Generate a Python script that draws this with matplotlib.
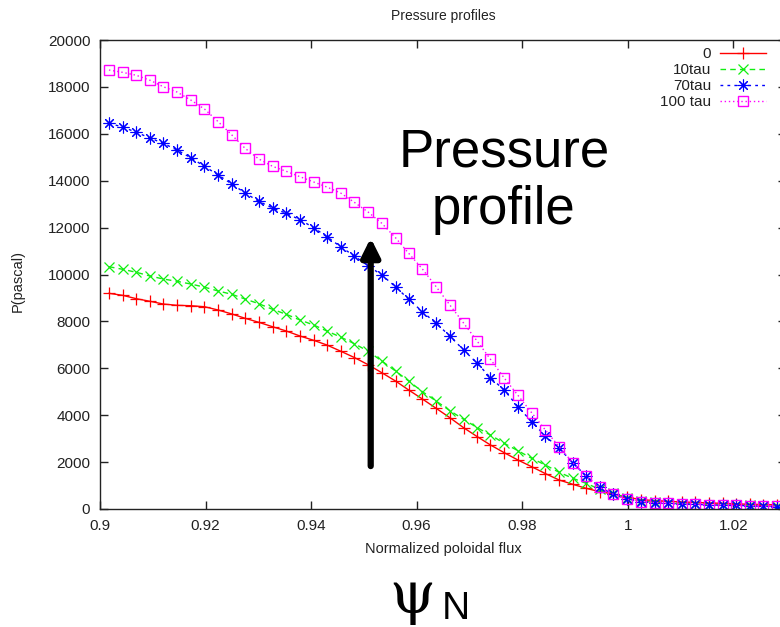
import matplotlib
matplotlib.use('Agg')
import matplotlib.pyplot as plt
from matplotlib.ticker import FormatStrFormatter, MultipleLocator

plt.rcParams['font.family'] = ['Liberation Sans', 'DejaVu Sans']

# normalized poloidal flux (grid)
psi = [0.9017, 0.9043, 0.9069, 0.9095, 0.9120, 0.9146, 0.9172, 0.9198, 0.9224, 0.9250,
       0.9275, 0.9301, 0.9327, 0.9353, 0.9379, 0.9405, 0.9430, 0.9456, 0.9482, 0.9508,
       0.9534, 0.9560, 0.9585, 0.9611, 0.9637, 0.9663, 0.9689, 0.9715, 0.9740, 0.9766,
       0.9792, 0.9818, 0.9844, 0.9870, 0.9896, 0.9921, 0.9947, 0.9973, 0.9999, 1.0025,
       1.0051, 1.0076, 1.0102, 1.0128, 1.0154, 1.0180, 1.0206, 1.0231, 1.0257, 1.0283]

p_0 = [9197, 9112, 8967, 8856, 8741, 8686, 8669, 8626, 8485, 8315,
       8132, 7961, 7773, 7590, 7377, 7193, 6993, 6730, 6460, 6155,
       5812, 5458, 5074, 4690, 4294, 3893, 3467, 3083, 2729, 2401,
       2089, 1804, 1510, 1237, 1053, 883, 738, 640, 500, 400,
       360, 330, 300, 280, 260, 240, 220, 200, 190, 180]

p_10tau = [10332, 10221, 10093, 9935, 9807, 9709, 9594, 9460, 9296, 9155,
           8954, 8754, 8515, 8302, 8059, 7846, 7590, 7330, 7050, 6730,
           6311, 5884, 5458, 5002, 4605, 4192, 3825, 3467, 3155, 2801,
           2486, 2162, 1876, 1565, 1309, 1096, 840, 669, 470, 340,
           290, 260, 230, 210, 190, 175, 160, 150, 140, 130]

p_70tau = [16446, 16288, 16062, 15819, 15593, 15308, 14979, 14613, 14242, 13858,
           13474, 13120, 12835, 12609, 12336, 11995, 11611, 11184, 10788, 10374,
           9978, 9479, 8942, 8413, 7918, 7377, 6780, 6213, 5599, 5074,
           4362, 3723, 3113, 2588, 1974, 1407, 925, 627, 414, 311,
           270, 243, 215, 200, 180, 160, 150, 140, 120, 105]

p_100tau = [18720, 18620, 18494, 18280, 18007, 17781, 17440, 17056, 16515, 15947,
            15380, 14924, 14613, 14400, 14170, 13944, 13730, 13475, 13078, 12664,
            12183, 11568, 10903, 10234, 9479, 8699, 7931, 7151, 6383, 5586,
            4848, 4106, 3369, 2656, 1974, 1407, 925, 627, 414, 311,
            275, 245, 218, 200, 182, 162, 150, 140, 122, 108]

xticks = [0.9, 0.92, 0.94, 0.96, 0.98, 1.0, 1.02]

fig = plt.figure(figsize=(7.8, 6.27), dpi=100)
ax = fig.add_axes([100 / 780, 118 / 627, 686 / 780, 469 / 627])

ax.plot(psi, p_0, color='#ff0000', lw=1, ls='-', marker='+', ms=8, mew=0.9, label='0')
ax.plot(psi, p_10tau, color='#11ee11', lw=1, ls=(0, (4, 3)), marker='x', ms=7, mew=0.9,
        label='10tau')
ax.plot(psi, p_70tau, color='#0000ff', lw=1, ls=(0, (2, 3)), marker=(8, 2, 0), ms=8.5,
        mew=0.8, label='70tau')
ax.plot(psi, p_100tau, color='#ff00ff', lw=1, ls=(0, (1, 2)), marker='s', ms=7, mew=1,
        mfc='none', label='100 tau')

ax.set_xlim(0.9, 1.03)
ax.set_ylim(0, 20000)
ax.set_xticks(xticks)
ax.xaxis.set_major_formatter(FormatStrFormatter('%g'))
ax.yaxis.set_major_locator(MultipleLocator(2000))
ax.tick_params(direction='in', length=6, width=1, top=True, right=True,
               labelsize=11, colors='#222222', pad=7)
for s in ax.spines.values():
    s.set_color('#222222')
    s.set_linewidth(1)

fig.text(443 / 780, 1 - 16 / 627, 'Pressure profiles', ha='center', va='center',
         fontsize=10, color='#222222')
fig.text(443 / 780, 1 - 549 / 627, 'Normalized poloidal flux', ha='center', va='center',
         fontsize=10.5, color='#222222')
fig.text(18 / 780, 1 - 281 / 627, 'P(pascal)', ha='center', va='center', rotation=90,
         fontsize=10.5, color='#222222')

leg = ax.legend(loc='upper right', bbox_to_anchor=(766 / 780, 1 - 47 / 627),
                bbox_transform=fig.transFigure, frameon=False, markerfirst=False,
                fontsize=11, handlelength=3.0, handletextpad=0.6, labelspacing=0.13,
                borderpad=0, borderaxespad=0)
for t in leg.get_texts():
    t.set_color('#222222')

# big annotation
ax.annotate('', xy=(0.9513, 11560), xytext=(0.9513, 1830),
            arrowprops=dict(arrowstyle='-|>,head_length=1.1,head_width=0.55',
                            lw=4.5, color='black', mutation_scale=10,
                            shrinkA=0, shrinkB=0))
fig.text(504 / 780, 1 - 181 / 627, 'Pressure\nprofile', ha='center', va='center',
         fontsize=38, color='black', linespacing=1.2)
fig.text(412 / 780, 1 - 597 / 627, 'ψ', ha='center', va='center', fontsize=42,
         family=['DejaVu Serif'])
fig.text(442 / 780, 1 - 609 / 627, 'N', ha='left', va='center', fontsize=28)

fig.savefig('out.png', dpi=100)
